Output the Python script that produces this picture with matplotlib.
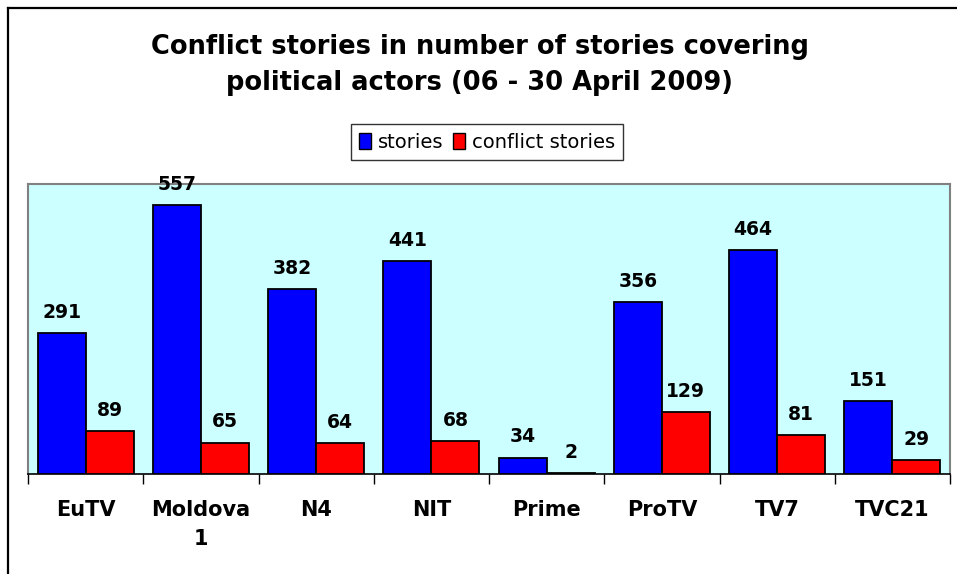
import matplotlib
matplotlib.use("Agg")
import matplotlib.pyplot as plt
import numpy as np
from matplotlib.patches import Patch
from matplotlib.lines import Line2D

categories = ["EuTV", "Moldova\n1", "N4", "NIT", "Prime", "ProTV", "TV7", "TVC21"]
stories = [291, 557, 382, 441, 34, 356, 464, 151]
conflict = [89, 65, 64, 68, 2, 129, 81, 29]
series_names = ["stories", "conflict stories"]
title = "Conflict stories in number of stories covering\npolitical actors (06 - 30 April 2009)"

W, H = 957, 574
fig = plt.figure(figsize=(W / 100, H / 100), dpi=100)
fig.patch.set_facecolor("white")

# outer frame (cut by the image on right/bottom)
fig.add_artist(Line2D([8 / W, 8 / W], [0, 1 - 8 / H], transform=fig.transFigure, color="black", lw=1.6))
fig.add_artist(Line2D([8 / W, 1], [1 - 8 / H, 1 - 8 / H], transform=fig.transFigure, color="black", lw=1.6))

ax = fig.add_axes([28 / W, (H - 474) / H, 922 / W, 290 / H])
ax.set_facecolor("#CCFFFF")

x = np.arange(len(categories))
bw = 0.417
b1 = ax.bar(x - bw / 2, stories, bw, color="#0000FF", edgecolor="black", linewidth=1.3, label=series_names[0], zorder=3)
b2 = ax.bar(x + bw / 2, conflict, bw, color="#FF0000", edgecolor="black", linewidth=1.3, label=series_names[1], zorder=3)

for bars, vals in ((b1, stories), (b2, conflict)):
    for r, v in zip(bars, vals):
        ax.annotate(str(v), (r.get_x() + r.get_width() / 2, v), xytext=(0, 8), textcoords="offset points",
                    ha="center", va="bottom", fontsize=13.5, fontweight="bold", family="DejaVu Sans")

ax.set_xlim(-0.5, len(categories) - 0.5)
ax.set_ylim(0, 600)
ax.set_yticks([])
ax.set_xticks(x)
ax.set_xticklabels(categories, fontsize=15, fontweight="bold", linespacing=1.55, va="top")
ax.tick_params(axis="x", which="major", length=0, pad=19)
ax.set_xticks(np.arange(len(categories) + 1) - 0.5, minor=True)
ax.tick_params(axis="x", which="minor", length=7, width=1, color="black", direction="out")

for s in ("top", "right", "left"):
    ax.spines[s].set_color("#808080")
    ax.spines[s].set_linewidth(1.5)
ax.spines["bottom"].set_color("black")
ax.spines["bottom"].set_linewidth(1.2)

fig.text(480 / W, 1 - 65 / H, title, ha="center", va="center", fontsize=18.5, fontweight="bold",
         linespacing=1.5)

handles = [Patch(facecolor="#0000FF", edgecolor="black"), Patch(facecolor="#FF0000", edgecolor="black")]
leg = fig.legend(handles, series_names, loc="center", bbox_to_anchor=(487 / W, 1 - 142 / H), ncol=2,
                 frameon=True, fancybox=False, fontsize=14, handlelength=0.6, handleheight=0.9,
                 handletextpad=0.35, columnspacing=0.5, borderpad=0.45, edgecolor="black")
leg.get_frame().set_linewidth(1.0)

fig.savefig("out.png", dpi=100)
